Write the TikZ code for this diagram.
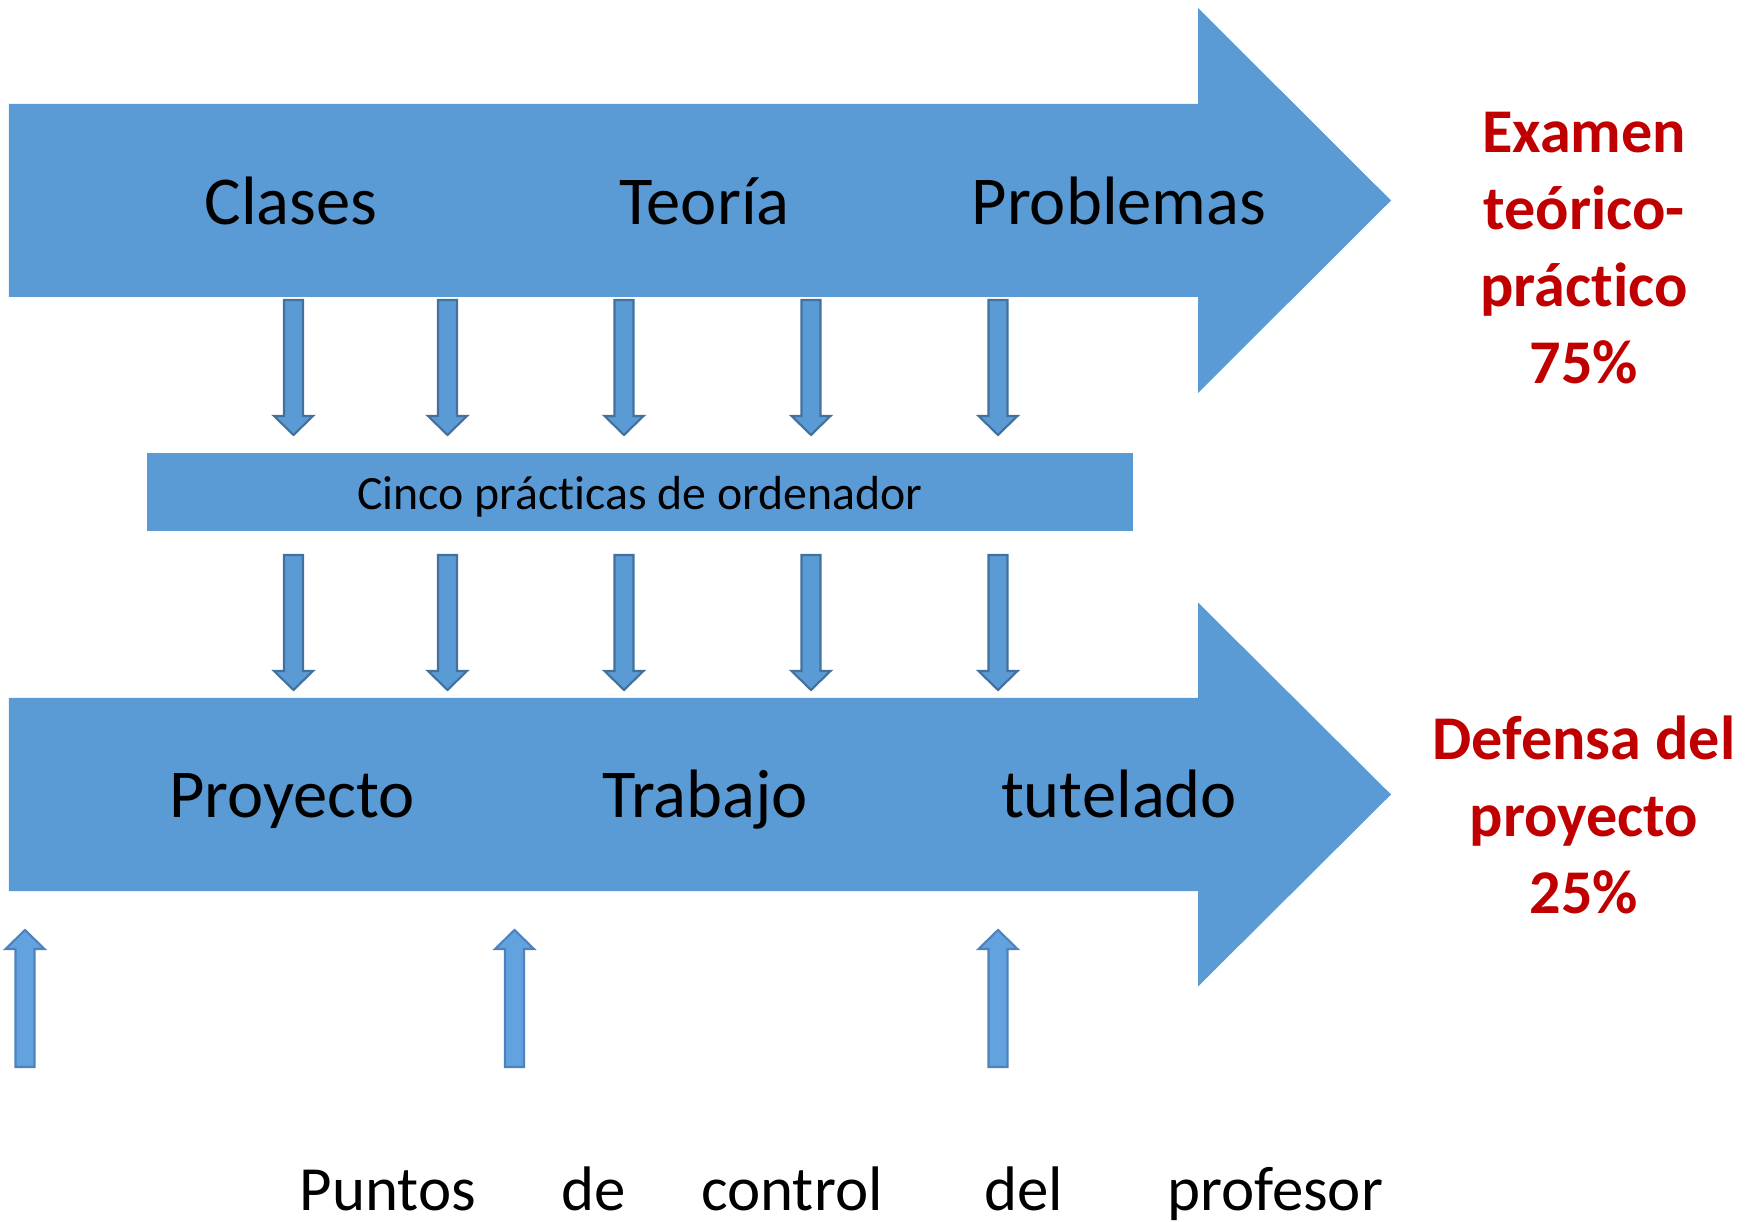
\documentclass[tikz,border=0pt]{standalone}
\usepackage{fontspec}
\setmainfont{Carlito}[RawFeature={-liga;-clig;-calt;-dlig}]
\usetikzlibrary{calc}

\definecolor{arrowblue}{HTML}{5B9BD5}
\definecolor{arrowedge}{HTML}{41719C}
\definecolor{upblue}{HTML}{62A3DF}
\definecolor{upedge}{HTML}{4F81BD}
\definecolor{examred}{HTML}{C00000}

% vertical block arrow from #2 to #3
\newcommand{\blockarrow}[3][smallarrow]{%
    \coordinate (hb) at ($(#3)!0.19cm!(#2)$);
    \filldraw[#1] ($(#2)+(-0.095,0)$) -- ($(hb)+(-0.095,0)$) -- ($(hb)+(-0.195,0)$) -- (#3)
        -- ($(hb)+(0.195,0)$) -- ($(hb)+(0.095,0)$) -- ($(#2)+(0.095,0)$) -- cycle;
}

\begin{document}
\begin{tikzpicture}[
        bigtext/.style={font=\fontsize{19.5}{23}\selectfont, anchor=base},
        redtext/.style={font=\fontsize{17.7}{21.9}\selectfont\bfseries, text=examred, align=center},
        smallarrow/.style={fill=arrowblue, draw=arrowedge, line width=0.6pt},
        uparrow/.style={fill=upblue, draw=upedge, line width=0.6pt}
    ]
        \useasboundingbox (0,0) rectangle (17.56,12.21);

        % Top arrow: clases
        \fill[arrowblue] (0.09,9.24) -- (11.98,9.24) -- (11.98,8.28) -- (13.91,10.205)
            -- (11.98,12.13) -- (11.98,11.17) -- (0.09,11.17) -- cycle;
        \node[bigtext] (clases) at (2.91,9.96) {Clases};
        \node[bigtext] (teoria) at (7.045,9.96) {Teoría};
        \node[bigtext] (problemas) at (11.19,9.96) {Problemas};

        % Bottom arrow: proyecto
        \fill[arrowblue] (0.09,3.30) -- (11.98,3.30) -- (11.98,2.345) -- (13.91,4.265)
            -- (11.98,6.185) -- (11.98,5.23) -- (0.09,5.23) -- cycle;
        \node[bigtext] (proyecto) at (2.92,4.04) {Proyecto};
        \node[bigtext] (trabajo) at (7.05,4.04) {Trabajo};
        \node[bigtext] (tutelado) at (11.19,4.04) {tutelado};

        % Practicas box
        \node[fill=arrowblue, minimum width=9.86cm, minimum height=0.78cm, inner sep=0pt,
            text height=0.45cm, text depth=0.09cm,
            font=\fontsize{13.6}{16}\selectfont] (caja) at (6.40,7.29) {Cinco prácticas de ordenador};

        % Arrows into and out of the box
        \foreach \x [count=\i] in {2.935,4.475,6.24,8.11,9.98} {
            \coordinate (a\i) at (\x,9.21);
            \coordinate (b\i) at (\x,7.86);
            \coordinate (c\i) at (\x,6.66);
            \coordinate (d\i) at (\x,5.31);
            \blockarrow{a\i}{b\i}
            \blockarrow{c\i}{d\i}
        }

        % Control points of the teacher
        \foreach \x [count=\i] in {0.25,5.145,9.98} {
            \coordinate (p\i) at (\x,1.54);
            \coordinate (q\i) at (\x,2.91);
            \blockarrow[uparrow]{p\i}{q\i}
        }
        \node[anchor=base west, inner sep=0pt, font=\fontsize{17.9}{21}\selectfont] (puntos) at (2.99,0.11)
            {Puntos\hspace{0.86cm}de\hspace{0.75cm}control\hspace{1.02cm}del\hspace{1.04cm}profesor};

        % Weights
        \node[redtext] (examen) at (15.84,9.73) {Examen\\teórico-\\práctico\\75\%};
        \node[redtext] (defensa) at (15.84,4.06) {Defensa del\\proyecto\\25\%};

    \end{tikzpicture}
\end{document}
